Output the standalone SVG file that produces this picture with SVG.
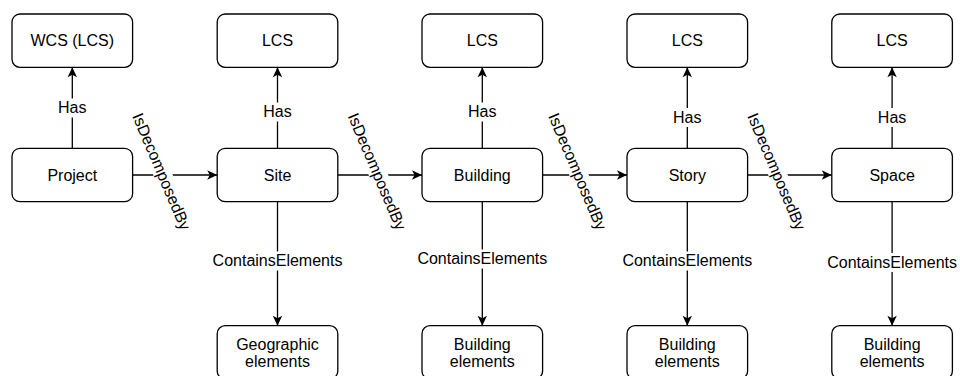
<svg xmlns="http://www.w3.org/2000/svg" width="960" height="376" viewBox="0 0 960 376">
  <defs>
    <style>
      .box { fill: #fff; stroke: #000; stroke-width: 1.3; }
      .lbl { font-family: "Liberation Sans", Arial, Helvetica, sans-serif; font-size: 16px; fill: #000; text-anchor: middle; }
      .elbl { font-family: "Liberation Sans", Arial, Helvetica, sans-serif; font-size: 16px; fill: #000; text-anchor: middle; }
      .edge { fill: none; stroke: #000; stroke-width: 1.3; }
      .bg { fill: #fff; }
    </style>
    <marker id="arrow" markerUnits="userSpaceOnUse" markerWidth="12" markerHeight="12" viewBox="-11 -6 12 12" refX="0" refY="0" orient="auto">
      <path d="M0,0 L-10,-4.7 L-7.5,0 L-10,4.7 Z" fill="#000"/>
    </marker>
  </defs>
  <rect width="960" height="376" fill="#fff"/>

  <!-- connectors -->
  <g id="connectors">
    <!-- Has (upwards) -->
    <line class="edge" x1="72.3" y1="148.3" x2="72.3" y2="67.3" marker-end="url(#arrow)"/>
    <line class="edge" x1="277.5" y1="148.3" x2="277.5" y2="67.3" marker-end="url(#arrow)"/>
    <line class="edge" x1="482.3" y1="148.3" x2="482.3" y2="67.3" marker-end="url(#arrow)"/>
    <line class="edge" x1="687.3" y1="148.3" x2="687.3" y2="67.3" marker-end="url(#arrow)"/>
    <line class="edge" x1="892.1" y1="148.3" x2="892.1" y2="67.3" marker-end="url(#arrow)"/>
    <rect class="bg" x="55" y="98.5" width="35" height="19"/>
    <text class="elbl" x="72.3" y="113.3">Has</text>
    <rect class="bg" x="260" y="102.5" width="35" height="19"/>
    <text class="elbl" x="277.5" y="117.3">Has</text>
    <rect class="bg" x="465" y="102.5" width="35" height="19"/>
    <text class="elbl" x="482.3" y="117.3">Has</text>
    <rect class="bg" x="670" y="108" width="35" height="19"/>
    <text class="elbl" x="687.3" y="122.8">Has</text>
    <rect class="bg" x="875" y="108" width="35" height="19"/>
    <text class="elbl" x="892.1" y="122.8">Has</text>

    <!-- IsDecomposedBy (rightwards) -->
    <line class="edge" x1="132.6" y1="175" x2="217.2" y2="175" marker-end="url(#arrow)"/>
    <line class="edge" x1="337.8" y1="175" x2="422" y2="175" marker-end="url(#arrow)"/>
    <line class="edge" x1="542.6" y1="175" x2="627" y2="175" marker-end="url(#arrow)"/>
    <line class="edge" x1="747.6" y1="175" x2="831.8" y2="175" marker-end="url(#arrow)"/>
    <g transform="translate(161.5,171.5) rotate(67)">
      <rect class="bg" x="-64" y="-9" width="128" height="18"/>
      <text class="elbl" x="0" y="5.5">IsDecomposedBy</text>
    </g>
    <g transform="translate(377,171.5) rotate(67)">
      <rect class="bg" x="-64" y="-9" width="128" height="18"/>
      <text class="elbl" x="0" y="5.5">IsDecomposedBy</text>
    </g>
    <g transform="translate(577.5,171.5) rotate(67)">
      <rect class="bg" x="-64" y="-9" width="128" height="18"/>
      <text class="elbl" x="0" y="5.5">IsDecomposedBy</text>
    </g>
    <g transform="translate(776.5,171.5) rotate(67)">
      <rect class="bg" x="-64" y="-9" width="128" height="18"/>
      <text class="elbl" x="0" y="5.5">IsDecomposedBy</text>
    </g>

    <!-- ContainsElements (downwards) -->
    <line class="edge" x1="277.5" y1="201.7" x2="277.5" y2="325.7" marker-end="url(#arrow)"/>
    <line class="edge" x1="482.3" y1="201.7" x2="482.3" y2="325.7" marker-end="url(#arrow)"/>
    <line class="edge" x1="687.3" y1="201.7" x2="687.3" y2="325.7" marker-end="url(#arrow)"/>
    <line class="edge" x1="892.1" y1="201.7" x2="892.1" y2="325.7" marker-end="url(#arrow)"/>
    <rect class="bg" x="211" y="251.5" width="133" height="19"/>
    <text class="elbl" x="277.5" y="266.2">ContainsElements</text>
    <rect class="bg" x="416" y="249.5" width="133" height="19"/>
    <text class="elbl" x="482.3" y="264.2">ContainsElements</text>
    <rect class="bg" x="621" y="251.5" width="133" height="19"/>
    <text class="elbl" x="687.3" y="266">ContainsElements</text>
    <rect class="bg" x="826" y="253" width="133" height="19"/>
    <text class="elbl" x="892.1" y="267.7">ContainsElements</text>
  </g>

  <!-- top row: coordinate systems -->
  <g id="wcs">
    <rect class="box" x="12" y="14" width="120.6" height="53.3" rx="8"/>
    <text class="lbl" x="72.3" y="46.3">WCS (LCS)</text>
  </g>
  <g id="lcs-site">
    <rect class="box" x="217.2" y="14" width="120.6" height="53.3" rx="8"/>
    <text class="lbl" x="277.5" y="46.3">LCS</text>
  </g>
  <g id="lcs-building">
    <rect class="box" x="422" y="14" width="120.6" height="53.3" rx="8"/>
    <text class="lbl" x="482.3" y="46.3">LCS</text>
  </g>
  <g id="lcs-story">
    <rect class="box" x="627" y="14" width="120.6" height="53.3" rx="8"/>
    <text class="lbl" x="687.3" y="46.3">LCS</text>
  </g>
  <g id="lcs-space">
    <rect class="box" x="831.8" y="14" width="120.6" height="53.3" rx="8"/>
    <text class="lbl" x="892.1" y="46.3">LCS</text>
  </g>

  <!-- middle row: spatial hierarchy -->
  <g id="project">
    <rect class="box" x="12" y="148.3" width="120.6" height="53.4" rx="8"/>
    <text class="lbl" x="72.3" y="180.8">Project</text>
  </g>
  <g id="site">
    <rect class="box" x="217.2" y="148.3" width="120.6" height="53.4" rx="8"/>
    <text class="lbl" x="277.5" y="180.8">Site</text>
  </g>
  <g id="building">
    <rect class="box" x="422" y="148.3" width="120.6" height="53.4" rx="8"/>
    <text class="lbl" x="482.3" y="180.8">Building</text>
  </g>
  <g id="story">
    <rect class="box" x="627" y="148.3" width="120.6" height="53.4" rx="8"/>
    <text class="lbl" x="687.3" y="180.8">Story</text>
  </g>
  <g id="space">
    <rect class="box" x="831.8" y="148.3" width="120.6" height="53.4" rx="8"/>
    <text class="lbl" x="892.1" y="180.8">Space</text>
  </g>

  <!-- bottom row: contained elements -->
  <g id="geographic-elements">
    <rect class="box" x="217.2" y="325.7" width="120.6" height="53.3" rx="8"/>
    <text class="lbl" x="277.5" y="349.5">Geographic</text>
    <text class="lbl" x="277.5" y="367">elements</text>
  </g>
  <g id="building-elements-building">
    <rect class="box" x="422" y="325.7" width="120.6" height="53.3" rx="8"/>
    <text class="lbl" x="482.3" y="349.5">Building</text>
    <text class="lbl" x="482.3" y="367">elements</text>
  </g>
  <g id="building-elements-story">
    <rect class="box" x="627" y="325.7" width="120.6" height="53.3" rx="8"/>
    <text class="lbl" x="687.3" y="349.5">Building</text>
    <text class="lbl" x="687.3" y="367">elements</text>
  </g>
  <g id="building-elements-space">
    <rect class="box" x="831.8" y="325.7" width="120.6" height="53.3" rx="8"/>
    <text class="lbl" x="892.1" y="349.5">Building</text>
    <text class="lbl" x="892.1" y="367">elements</text>
  </g>
</svg>
